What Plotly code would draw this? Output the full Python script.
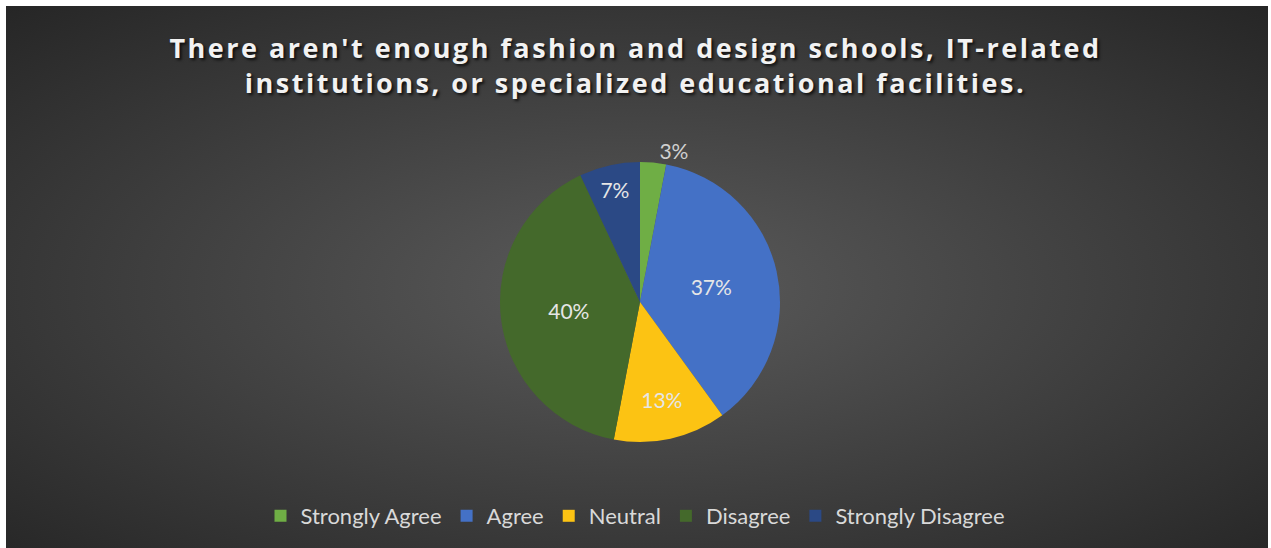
import base64
import plotly.graph_objects as go

# Survey responses (percent of respondents)
categories = ["Strongly Agree", "Agree", "Neutral", "Disagree", "Strongly Disagree"]
shares = [3, 37, 13, 40, 7]
slice_colors = ["#6fae45", "#4471c6", "#fcc313", "#44692b", "#2b4985"]
label_positions = ["outside", "inside", "inside", "inside", "inside"]

title_text = ("There aren't enough fashion and design schools, IT-related<br>"
              "institutions, or specialized educational facilities.")

W, H = 1271, 548

# dark panel with a radial gradient, drawn as an SVG background image
svg = (
    '<svg xmlns="http://www.w3.org/2000/svg" width="1262" height="542" '
    'viewBox="0 0 1262 542" preserveAspectRatio="none">'
    '<defs><radialGradient id="g" cx="50%" cy="52%" r="72%">'
    '<stop offset="0%" stop-color="#5b5b5b"/>'
    '<stop offset="100%" stop-color="#262626"/>'
    '</radialGradient></defs>'
    '<rect width="1262" height="542" fill="url(#g)"/></svg>'
)
bg_src = "data:image/svg+xml;base64," + base64.b64encode(svg.encode()).decode()

fig = go.Figure(
    go.Pie(
        labels=categories,
        values=shares,
        sort=False,
        direction="clockwise",
        rotation=0,
        marker=dict(colors=slice_colors, line=dict(width=0)),
        texttemplate="%{percent:.0%}",
        textposition=label_positions,
        insidetextorientation="horizontal",
        textfont=dict(family="Lato", size=21, color="#e6e6e6"),
        outsidetextfont=dict(family="Lato", size=21, color="#d0d0d0"),
        insidetextfont=dict(family="Lato", size=21, color="#e6e6e6"),
        domain=dict(x=[500 / W, 780 / W], y=[(H - 442) / H, (H - 162) / H]),
        hoverinfo="label+percent",
    )
)

fig.update_layout(
    width=W,
    height=H,
    margin=dict(l=0, r=0, t=0, b=0),
    paper_bgcolor="#ffffff",
    images=[dict(
        source=bg_src, xref="paper", yref="paper",
        x=6 / W, y=1 - 6 / H, sizex=1262 / W, sizey=542 / H,
        xanchor="left", yanchor="top", sizing="stretch", layer="below",
    )],
    title=dict(
        text=title_text,
        x=0.5, xanchor="center",
        y=1 - 58 / H, yanchor="top",
        font=dict(family="Open Sans", size=27, weight="bold", color="#f2f2f2",
                  shadow="2px 2px 3px rgba(0,0,0,0.75)"),
    ),
    showlegend=True,
    legend=dict(
        orientation="h",
        x=0.5, xanchor="center",
        y=(H - 516) / H, yanchor="middle",
        font=dict(family="Lato", size=22, color="#d9d9d9"),
        bgcolor="rgba(0,0,0,0)",
    ),
)

# spaced-out lettering for the chart title
title_spacing_js = """
document.querySelectorAll('.gtitle').forEach(function (el) {
    el.style.letterSpacing = '2.5px';
});
"""

fig.write_html("out.html", post_script=title_spacing_js)
